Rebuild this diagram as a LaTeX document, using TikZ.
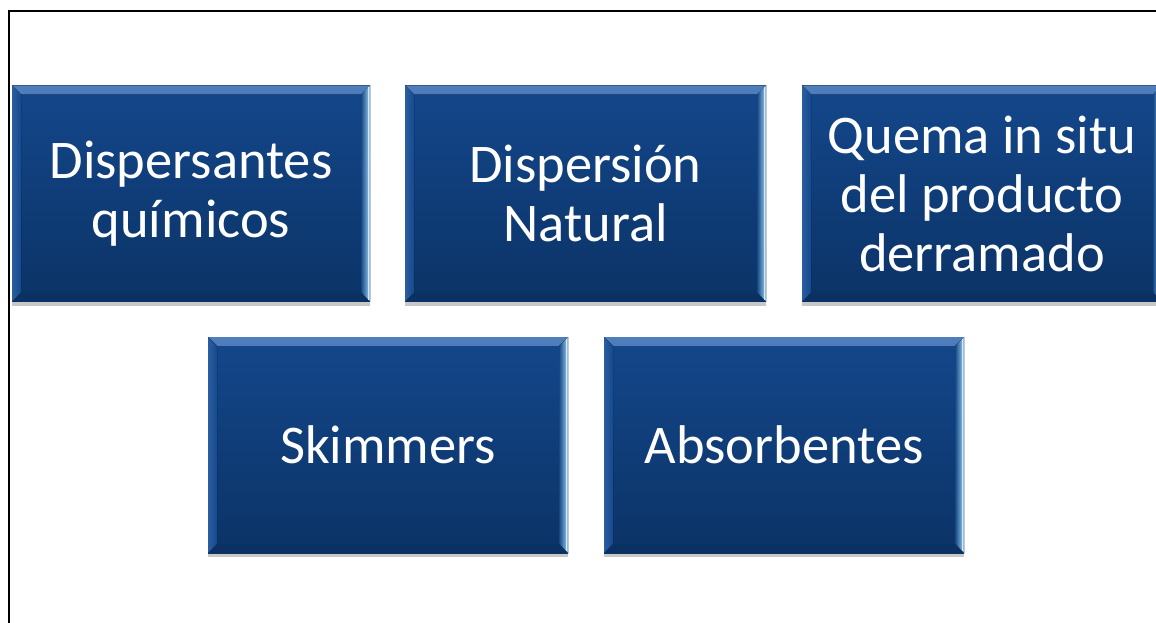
\documentclass[tikz,border=0pt]{standalone}
\usepackage{fontspec}
\newfontfamily\boxfont{Carlito}
\usetikzlibrary{shadows}
\definecolor{boxtop}{HTML}{14478B}
\definecolor{boxbot}{HTML}{0B3366}
\definecolor{bevtopout}{HTML}{4F7EBC}
\definecolor{bevtopin}{HTML}{1C5094}
\definecolor{bevleftout}{HTML}{2B5DA0}
\definecolor{bevleftin}{HTML}{16498D}
\definecolor{bevrightin}{HTML}{154785}
\definecolor{bevrightout}{HTML}{9FD2F2}
\definecolor{bevbot}{HTML}{0A2E5C}
\tikzset{
  bx/.style={draw=none, minimum width=#1, minimum height=216pt, inner sep=0pt,
    align=center, text=white,
    font=\boxfont\fontsize{54.5pt}{59pt}\selectfont,
    top color=boxtop, bottom color=boxbot,
    drop shadow={shadow xshift=0pt,shadow yshift=-4pt,opacity=.3,fill=black!70},
    path picture={
      \fill[top color=bevtopout, bottom color=bevtopin]
        (path picture bounding box.north west) -- (path picture bounding box.north east)
        -- ([shift={(-9pt,-9pt)}]path picture bounding box.north east)
        -- ([shift={(9pt,-9pt)}]path picture bounding box.north west) -- cycle;
      \fill[left color=bevleftout, right color=bevleftin]
        (path picture bounding box.north west) -- ([shift={(9pt,-9pt)}]path picture bounding box.north west)
        -- ([shift={(9pt,9pt)}]path picture bounding box.south west)
        -- (path picture bounding box.south west) -- cycle;
      \fill[left color=bevrightin, right color=bevrightout]
        (path picture bounding box.north east) -- ([shift={(-9pt,-9pt)}]path picture bounding box.north east)
        -- ([shift={(-9pt,9pt)}]path picture bounding box.south east)
        -- (path picture bounding box.south east) -- cycle;
      \fill[bevbot, opacity=.4]
        (path picture bounding box.south west) -- ([shift={(9pt,9pt)}]path picture bounding box.south west)
        -- ([shift={(-9pt,9pt)}]path picture bounding box.south east)
        -- (path picture bounding box.south east) -- cycle;
      \draw[white, line width=1.5pt, opacity=.7]
        ([shift={(-1.5pt,-2pt)}]path picture bounding box.north east) -- ([shift={(-1.5pt,2pt)}]path picture bounding box.south east);
    }},
  bx/.default=358pt
}
\begin{document}
\begin{tikzpicture}[x=1pt,y=-1pt]
  \useasboundingbox (0,0) rectangle (1156,623);
  \fill[white] (0,0) rectangle (1156,623);
  \draw[line width=2pt] (9,624) -- (9,11) -- (1160,11);
  \node[bx] (b1) at (191,193.5) {Dispersantes\\químicos};
  \node[bx=361pt] (b2) at (585.5,193.5) {Dispersión\\Natural};
  \node[bx=360pt] (b3) at (982,193.5) {Quema in situ\\del producto\\derramado};
  \node[bx=360pt] (b4) at (388,445) {Skimmers};
  \node[bx=360pt] (b5) at (784,445) {Absorbentes};
\end{tikzpicture}
\end{document}
